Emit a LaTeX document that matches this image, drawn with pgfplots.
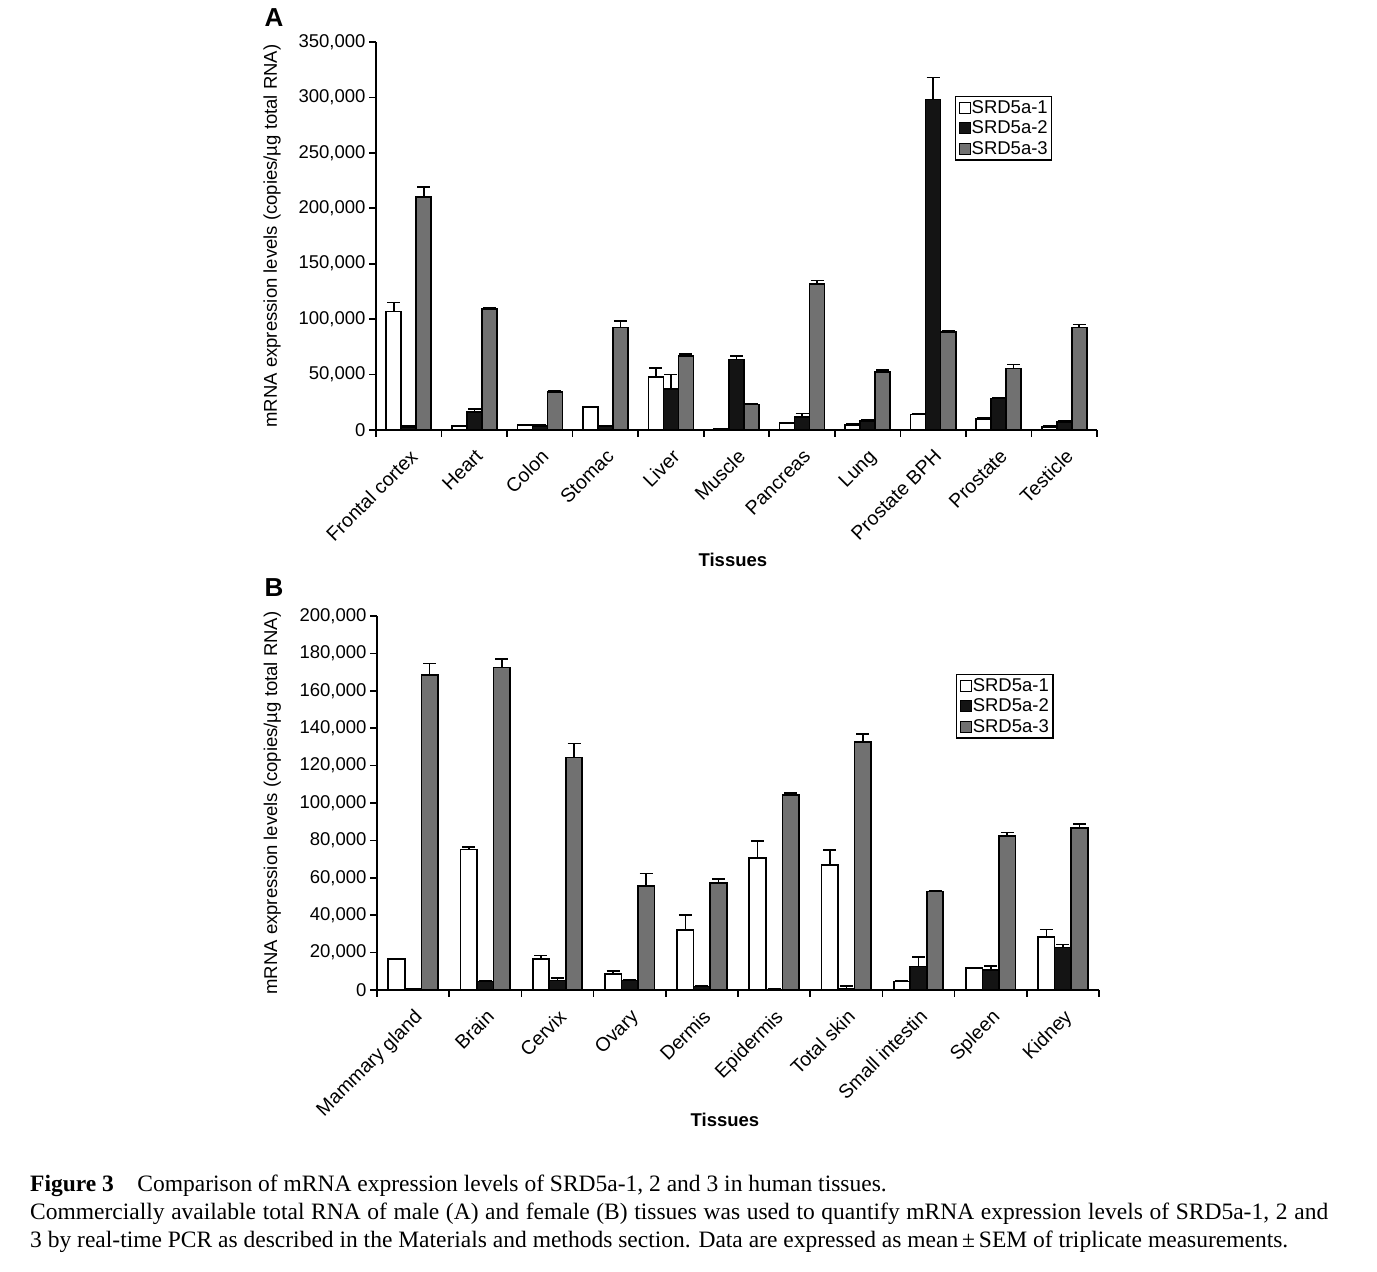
\documentclass[border=0pt]{standalone}
\usepackage{fontspec}
\setmainfont{Liberation Sans}
\newfontfamily\capfont{Liberation Serif}
\usepackage{pgfplots}
\usepackage{pgfplotstable}
\pgfplotsset{compat=1.18}

\definecolor{barblack}{HTML}{141414}
\definecolor{bargray}{HTML}{717171}
\newcommand\lbl{\fontsize{18.5}{20}\selectfont}

% male tissues: value / SEM for SRD5a-1, -2, -3
\pgfplotstableread{
x  s1     e1    s2     e2     s3     e3
0  107000 8000  3000   500    210000 9000
1  3500   500   16000  3000   109000 1500
2  4500   500   3900   500    34000  1000
3  20500  500   3500   500    92500  6000
4  47500  8500  37000  13000  66500  2000
5  1000   200   63500  3000   23000  500
6  6000   800   12000  3000   132000 3000
7  4500   800   8000   1000   52500  1500
8  14000  800   298000 20000  88500  1000
9  10000  1000  28500  800    55500  3500
10 3000   500   7500   1000   92500  2700
}\tabA

% female tissues
\pgfplotstableread{
x  s1     e1    s2     e2     s3     e3
0  16600  300   500    100    168400 6300
1  75200  1200  4500   500    172400 4500
2  16400  2000  5000   1500   124400 7500
3  8600   1700  5000   500    55800  6600
4  32000  8000  1800   300    57400  1800
5  70400  9300  300    100    104300 1200
6  66800  8000  500    1500   132800 4100
7  4500   500   12500  5000   52600  500
8  11600  300   10700  2100   82500  1800
9  28200  4200  22800  1600   86500  2300
}\tabB

\pgfplotsset{
  srd/.style={
    scale only axis, axis lines=left,
    axis line style={-, line width=1.8pt},
    tick align=outside, major tick length=7pt,
    tick style={line width=1.6pt, black},
    ymin=0, scaled y ticks=false,
    /pgf/number format/fixed,
    /pgf/number format/precision=0,
    /pgf/number format/1000 sep={,},
    /pgf/number format/assume math mode=true,
    tick label style={font=\lbl},
    label style={font=\lbl},
    xticklabel=\empty,
    extra x tick style={major tick length=0pt,
      xticklabel style={xshift=0pt, yshift=-18pt, rotate=45, anchor=north east, inner sep=0pt,
        font=\fontsize{19.5}{21}\selectfont}},
    ybar=0pt, bar width=0.229,
    legend cell align=left,
    legend image code/.code={\draw[##1, line width=1pt] (0pt,-5.5pt) rectangle (11pt,5.5pt);},
    legend style={anchor=north west, draw=black, line width=1.4pt, font=\lbl,
      inner xsep=3pt, inner ysep=3pt, row sep=4pt, nodes={inner sep=1pt}},
  },
  errs/.style={error bars/.cd, y dir=plus, y explicit,
    error bar style={line width=1.6pt, black},
    error mark options={rotate=90, mark size=6.5pt, line width=1.6pt, black}},
  sr1/.style={fill=white, draw=black, line width=1.7pt, errs},
  sr2/.style={fill=barblack, draw=black, line width=1.7pt, errs},
  sr3/.style={fill=bargray, draw=black, line width=1.7pt, errs},
}

\begin{document}
\begin{tikzpicture}
\useasboundingbox (0,0) rectangle (1377pt,1272pt);

\node[font=\bfseries\fontsize{26}{26}\selectfont] at (274pt,1254pt) {A};
\begin{axis}[srd, at={(376pt,842pt)}, anchor=south west,
  width=721pt, height=388pt,
  xmin=-0.5, xmax=10.5, ymax=350000,
  ytick={0,50000,...,350000},
  xtick={-0.5,0.5,...,10.5},
  extra x ticks={0,...,10},
  extra x tick labels={Frontal cortex, Heart, Colon, Stomac, Liver, Muscle, Pancreas, Lung, Prostate BPH, Prostate, Testicle},
  xlabel={\bfseries Tissues},
  xlabel style={at={(axis description cs:0.495,-0.335)}, anchor=center},
  ylabel={mRNA expression levels (copies/µg total RNA)},
  ylabel style={at={(axis description cs:-0.144,0.5)}, anchor=center},
  legend style={at={(0.803,0.861)}},
]
\addplot[sr1] table[x=x, y=s1, y error=e1] \tabA;
\addplot[sr2] table[x=x, y=s2, y error=e2] \tabA;
\addplot[sr3] table[x=x, y=s3, y error=e3] \tabA;
\legend{SRD5a-1, SRD5a-2, SRD5a-3}
\end{axis}

\node[font=\bfseries\fontsize{26}{26}\selectfont] at (274pt,684pt) {B};
\begin{axis}[srd, at={(377pt,282pt)}, anchor=south west,
  width=722pt, height=374pt,
  xmin=-0.5, xmax=9.5, ymax=200000,
  ytick={0,20000,...,200000},
  xtick={-0.5,0.5,...,9.5},
  extra x ticks={0,...,9},
  extra x tick labels={Mammary gland, Brain, Cervix, Ovary, Dermis, Epidermis, Total skin, Small intestin, Spleen, Kidney},
  xlabel={\bfseries Tissues},
  xlabel style={at={(axis description cs:0.482,-0.348)}, anchor=center},
  ylabel={mRNA expression levels (copies/µg total RNA)},
  ylabel style={at={(axis description cs:-0.145,0.5)}, anchor=center},
  legend style={at={(0.802,0.845)}},
]
\addplot[sr1] table[x=x, y=s1, y error=e1] \tabB;
\addplot[sr2] table[x=x, y=s2, y error=e2] \tabB;
\addplot[sr3] table[x=x, y=s3, y error=e3] \tabB;
\legend{SRD5a-1, SRD5a-2, SRD5a-3}
\end{axis}

\node[anchor=north west, inner sep=0pt, text width=1298pt, align=justify,
  font=\capfont\fontsize{23.5}{28}\selectfont] at (30pt,97pt)
  {\textbf{Figure 3}\hspace{1em}Comparison of mRNA expression levels of SRD5a-1, 2 and 3 in human tissues.\\
  Commercially available total RNA of male (A) and female (B) tissues was used to quantify mRNA expression levels of SRD5a-1, 2 and\linebreak
  3 by real-time PCR as described in the Materials and methods section. Data are expressed as mean\,±\,SEM of triplicate measurements.};
\end{tikzpicture}
\end{document}
